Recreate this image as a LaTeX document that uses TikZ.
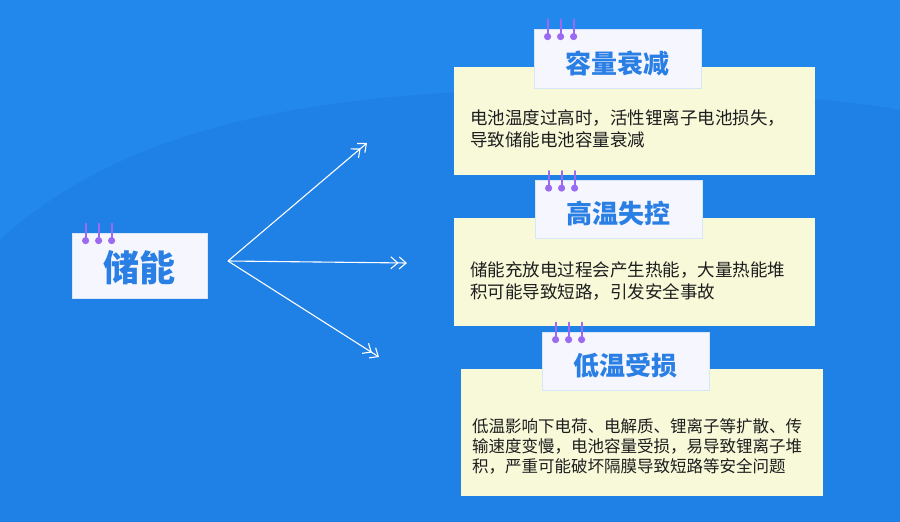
\documentclass[tikz,border=0pt]{standalone}
\usepackage{fontspec}
\newfontfamily\cjk{Noto Sans CJK SC}
\usepackage{xcolor}
\usepackage{tikz}
\usetikzlibrary{arrows.meta, positioning, calc}

\definecolor{fondhaut}{HTML}{2388EB}
\definecolor{fondbas}{HTML}{1F80E6}
\definecolor{carte}{HTML}{F6F6FF}
\definecolor{bord}{HTML}{D8E6FA}
\definecolor{bloc}{HTML}{F7F9D9}
\definecolor{titrebleu}{HTML}{2A7FE4}
\definecolor{anneau}{HTML}{9A6AF0}
\definecolor{texte}{HTML}{1E1E1E}

\tikzset{
  card/.style={fill=carte, draw=bord, line width=0.8pt, inner sep=0pt},
  panel/.style={fill=bloc, inner sep=0pt},
  cardtitle/.style={text=titrebleu, font=\cjk\bfseries\fontsize{26}{30}\selectfont},
  bodytext/.style={text=texte, align=left, inner sep=0pt, anchor=west},
  flow/.style={white, line width=1.1pt, -{Straight Barb[length=7pt,width=12pt]Straight Barb[length=7pt,width=12pt]}}
}

% anneaux au-dessus d'une carte
\newcommand{\rings}[1]{%
  \foreach \dx in {14,27,40} {
    \draw[anneau, line width=1.8pt, line cap=round] ($(#1.north west)+(\dx,-9)$) -- ($(#1.north west)+(\dx,8)$);
    \fill[anneau] ($(#1.north west)+(\dx,8)$) circle (3.6);
  }}

\begin{document}
\begin{tikzpicture}[x=1pt, y=-1pt]
  \useasboundingbox (0,0) rectangle (900,522);

  % Fond
  \fill[fondhaut] (0,0) rectangle (900,522);
  \fill[fondbas] (0,240) .. controls (120,130) and (300,95) .. (520,90)
      .. controls (700,86) and (850,100) .. (900,110) -- (900,522) -- (0,522) -- cycle;

  % Carte de gauche
  \node[card, minimum width=135pt, minimum height=65pt] (root) at (139.5,265.5) {};
  \node[text=titrebleu, font=\cjk\bfseries\fontsize{36}{40}\selectfont] (rootlbl) at (139.5,268) {储能};
  \rings{root}

  % Blocs de droite
  \node[panel, minimum width=361pt, minimum height=108pt] (b1) at (634.5,121) {};
  \node[panel, minimum width=361pt, minimum height=108pt] (b2) at (634.5,272) {};
  \node[panel, minimum width=362pt, minimum height=127pt] (b3) at (642,432.5) {};

  % Titres
  \node[card, minimum width=167pt, minimum height=59pt] (t1) at (617.5,58.5) {};
  \node[card, minimum width=167pt, minimum height=58pt] (t2) at (618.5,209.5) {};
  \node[card, minimum width=167pt, minimum height=58pt] (t3) at (625.5,361) {};
  \node[cardtitle] (t1lbl) at (617.5,63) {容量衰减};
  \node[cardtitle] (t2lbl) at (618.5,214) {高温失控};
  \node[cardtitle] (t3lbl) at (625.5,366) {低温受损};
  \rings{t1}
  \rings{t2}
  \rings{t3}

  % Textes
  \node[bodytext, font=\cjk\fontsize{17.5}{22}\selectfont] (x1) at (470,129)
      {电池温度过高时，活性锂离子电池损失，\\导致储能电池容量衰减};
  \node[bodytext, font=\cjk\fontsize{17.5}{22}\selectfont] (x2) at (470,281)
      {储能充放电过程会产生热能，大量热能堆\\积可能导致短路，引发安全事故};
  \node[bodytext, font=\cjk\fontsize{16.5}{20}\selectfont] (x3) at (472,446)
      {低温影响下电荷、电解质、锂离子等扩散、传\\输速度变慢，电池容量受损，易导致锂离子堆\\积，严重可能破坏隔膜导致短路等安全问题};

  % Flèches
  \coordinate (fork) at (228,261);
  \coordinate (e1) at (367,143);
  \coordinate (e2) at (407,263);
  \coordinate (e3) at (379,357);
  \draw[flow] (fork) -- (e1);
  \draw[flow] (fork) -- (e2);
  \draw[flow] (fork) -- (e3);
\end{tikzpicture}
\end{document}
